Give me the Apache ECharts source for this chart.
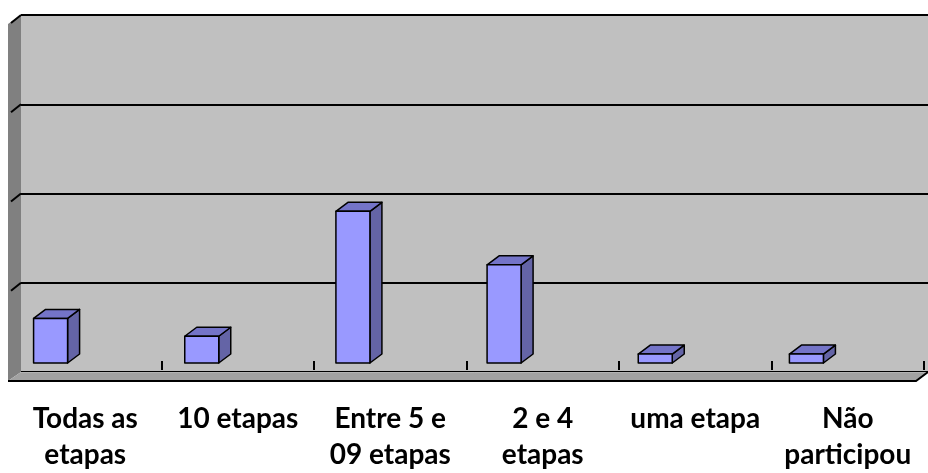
<!DOCTYPE html>
<html>
<head>
<meta charset="utf-8">
<script src="https://cdn.jsdelivr.net/npm/echarts@6/dist/echarts.min.js"></script>
<style>
  html, body { margin: 0; padding: 0; background: #ffffff; }
  #chart { width: 928px; height: 473px; }
</style>
</head>
<body>
<div id="chart"></div>
<script>
// Participation by number of stages
const categories = ['Todas as\netapas', '10 etapas', 'Entre 5 e\n09 etapas', '2 e 4\netapas', 'uma etapa', 'Não\nparticipou'];
const counts = [5, 3, 17, 11, 1, 1];
const yTicks = [0, 10, 20, 30, 40];

// depth offset of the pseudo-3D look (pixels to the right / upwards)
const DX = 12, DY = 9;

const chart = echarts.init(document.getElementById('chart'), null, { renderer: 'canvas' });

// side wall + floor, sized from the back-wall grid
function renderFrame(params, api) {
  const cs = params.coordSys;
  const x0 = cs.x, y0 = cs.y, w = cs.width, h = cs.height;
  const children = [];
  // left side wall
  children.push({
    type: 'polygon',
    shape: { points: [[x0 - DX - 1, y0 + DY], [x0, y0], [x0, y0 + h], [x0 - DX - 1, y0 + h + DY]] },
    style: { fill: '#808080' }
  });
  // gridlines carried onto the side wall
  yTicks.slice(1).forEach(function (t) {
    const p = api.coord([0, t]);
    children.push({
      type: 'line',
      shape: { x1: x0 - DX + 2, y1: p[1] + DY - 1, x2: x0, y2: p[1] },
      style: { stroke: '#000', lineWidth: 2 }
    });
  });
  // floor
  children.push({
    type: 'polygon',
    shape: { points: [[x0, y0 + h], [x0 + w, y0 + h], [x0 + w - DX, y0 + h + DY], [x0 - DX - 1, y0 + h + DY]] },
    style: { fill: '#a2a2a2' }
  });
  children.push({
    type: 'line',
    shape: { x1: x0, y1: y0 + h + 0.5, x2: x0 + w, y2: y0 + h + 0.5 },
    style: { stroke: '#b4b4b4', lineWidth: 1 }
  });
  // front edge of the floor
  children.push({
    type: 'polyline',
    shape: { points: [[x0 - DX - 1, y0 + h + DY], [x0 + w - DX, y0 + h + DY], [x0 + w, y0 + h]] },
    style: { stroke: '#000', lineWidth: 2, fill: null }
  });
  return { type: 'group', children: children };
}

// one pseudo-3D bar per category
function renderBar(params, api) {
  const i = api.value(0);
  const v = api.value(1);
  const base = api.coord([i, 0]);
  const top = api.coord([i, v]);
  const L = base[0] - 63, R = base[0] - 29;
  const B = base[1] - DY, T = top[1] - DY;
  const stroke = { stroke: '#000', lineWidth: 1.5, lineJoin: 'round' };
  return {
    type: 'group',
    children: [
      { type: 'polygon', shape: { points: [[R, T], [R + DX, T - DY], [R + DX, B - DY], [R, B]] },
        style: Object.assign({ fill: '#6464a6' }, stroke) },
      { type: 'polygon', shape: { points: [[L, T], [R, T], [R + DX, T - DY], [L + DX, T - DY]] },
        style: Object.assign({ fill: '#7474c8' }, stroke) },
      { type: 'rect', shape: { x: L, y: T, width: R - L, height: B - T },
        style: Object.assign({ fill: '#9999ff' }, stroke) }
    ]
  };
}

chart.setOption({
  animation: false,
  backgroundColor: '#ffffff',
  grid: [
    { left: 21, top: 15, width: 915, height: 357, show: true, backgroundColor: '#c0c0c0', borderWidth: 0 },
    { left: 9, top: 24, width: 915, height: 348 }
  ],
  xAxis: [
    { type: 'category', gridIndex: 0, data: categories, show: false },
    {
      type: 'category', gridIndex: 1, data: categories,
      axisLine: { show: false },
      axisTick: { show: true, inside: true, length: 9, lineStyle: { color: '#000', width: 2 } },
      axisLabel: {
        interval: 0, margin: 31,
        fontFamily: 'Lato, "Open Sans", sans-serif', fontWeight: 'bold',
        fontSize: 28, lineHeight: 36, color: '#000', align: 'center'
      }
    }
  ],
  yAxis: [
    {
      type: 'value', gridIndex: 0, min: 0, max: 40, interval: 10,
      axisLabel: { show: false }, axisLine: { show: false }, axisTick: { show: false },
      splitLine: { show: true, lineStyle: { color: '#000', width: 2 } }
    },
    { type: 'value', gridIndex: 1, min: 0, max: 40, show: false, splitLine: { show: false } }
  ],
  series: [
    {
      type: 'custom', xAxisIndex: 0, yAxisIndex: 0, renderItem: renderFrame,
      data: [[0, 0]], silent: true, z: 1
    },
    {
      type: 'custom', xAxisIndex: 0, yAxisIndex: 0, renderItem: renderBar,
      data: counts.map(function (c, i) { return [i, c]; }), z: 3
    }
  ]
});
</script>
</body>
</html>
